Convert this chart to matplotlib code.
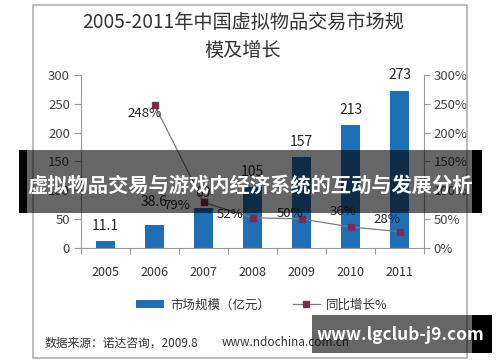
import matplotlib
matplotlib.use("Agg")
import matplotlib.pyplot as plt
from matplotlib.patches import Rectangle
from matplotlib.lines import Line2D
from matplotlib.patches import Patch

plt.rcParams['font.family'] = ['Noto Sans CJK SC', 'DejaVu Sans']

years = ['2005', '2006', '2007', '2008', '2009', '2010', '2011']
market_size = [11.1, 38.6, 69, 105, 157, 213, 273]
growth_years = ['2006', '2007', '2008', '2009', '2010', '2011']
growth_pct = [248, 79, 52, 50, 36, 28]
size_labels = ['11.1', '38.6', '69', '105', '157', '213', '273']
growth_labels = ['248%', '79%', '52%', '50%', '36%', '28%']
left_ticks = [0, 50, 100, 150, 200, 250, 300]
right_ticks = [0, 50, 100, 150, 200, 250, 300]
right_tick_labels = ['0%', '50%', '100%', '150%', '200%', '250%', '300%']

title_lines = ['2005-2011年中国虚拟物品交易市场规', '模及增长']
legend_labels = ['市场规模（亿元）', '同比增长%']
source_text = '数据来源：诺达咨询，2009.8'
source_url = 'www.ndochina.com.cn'
banner_text = '虚拟物品交易与游戏内经济系统的互动与发展分析'
watermark_text = 'www.lgclub-j9.com'

W, H = 500, 362
fig = plt.figure(figsize=(5, 3.62), dpi=100)
fig.patch.set_facecolor('white')

def fx(px):
    return px / W

def fy(py):
    return 1 - py / H

# outer frame
fig.add_artist(Rectangle((fx(33), fy(358)), fx(467) - fx(33), fy(5) - fy(358),
                         transform=fig.transFigure, fill=False, edgecolor='#b0b0b0', lw=1.2))

# title
fig.text(fx(243), fy(22), title_lines[0], ha='center', va='center', fontsize=13.8, color='#333333')
fig.text(fx(243), fy(50), title_lines[1], ha='center', va='center', fontsize=13.8, color='#333333')

ax = fig.add_axes([fx(81), fy(247.7), fx(424) - fx(81), fy(75) - fy(247.7)])
x = list(range(len(years)))
bars = ax.bar(x, market_size, width=0.4, color='#1f6fb6', zorder=2)
ax.set_xlim(-0.5, len(years) - 0.5)
ax.set_ylim(0, 300)
ax.set_yticks(left_ticks)
ax.set_xticks([i + 0.5 for i in range(-1, len(years))], minor=False)
ax.set_xticklabels([])
ax.set_xticks(x, minor=True)
ax.set_xticklabels(years, minor=True)
ax.tick_params(axis='x', which='minor', length=0, pad=13, labelsize=9, labelcolor='#333333')
ax.tick_params(axis='x', which='major', length=4, color='#999999', direction='out')
ax.tick_params(axis='y', length=5, color='#999999', labelsize=9.5, labelcolor='#444444', pad=3)
for s in ['top', 'right']:
    ax.spines[s].set_visible(False)
for s in ['left', 'bottom']:
    ax.spines[s].set_color('#999999')
ax.patch.set_alpha(0)

label_offsets = [11, 17, 11, 11, 11, 11, 11]
for xi, v, lab, off in zip(x, market_size, size_labels, label_offsets):
    ax.annotate(lab, (xi, v), xytext=(0, off), textcoords='offset points',
                ha='center', va='center', fontsize=10, color='#222222')

ax2 = ax.twinx()
gx = [years.index(g) for g in growth_years]
line, = ax2.plot(gx, growth_pct, color='#8a7285', lw=0.9, marker='s', markersize=4.5,
                 markerfacecolor='#7a2e4e', markeredgecolor='#7a2e4e', zorder=3)
ax2.set_ylim(0, 300)
ax2.set_yticks(right_ticks)
ax2.set_yticklabels(right_tick_labels)
ax2.tick_params(axis='y', length=4, color='#999999', labelsize=9.5, labelcolor='#444444', pad=3)
for s in ['top', 'left', 'bottom']:
    ax2.spines[s].set_visible(False)
ax2.spines['right'].set_color('#999999')

g_offsets = [(-7, -6), (-19, -2), (-16, 2), (-8, 4), (-5, 11), (-9, 9)]
for xi, v, lab, (dx, dy) in zip(gx, growth_pct, growth_labels, g_offsets):
    ax2.annotate(lab, (xi, v), xytext=(dx, dy), textcoords='offset points',
                 ha='center', va='center', fontsize=9.5, color='#222222')

# legend
handles = [Patch(facecolor='#1f6fb6', edgecolor='none'),
           Line2D([0], [0], color='#8a7285', lw=0.9, marker='s', markersize=4,
                  markerfacecolor='#7a2e4e', markeredgecolor='#7a2e4e')]
fig.legend(handles, legend_labels, loc='center', bbox_to_anchor=(fx(262), fy(305)),
           ncol=2, frameon=False, fontsize=9, handlelength=2.2, handleheight=0.6,
           columnspacing=1.8, handletextpad=0.5, labelcolor='#333333')

# source
fig.text(fx(45), fy(343), source_text, ha='left', va='center', fontsize=8.5, color='#333333')
fig.text(fx(222), fy(343), source_url, ha='left', va='center', fontsize=8.5, color='#333333')

# banner overlay
fig.add_artist(Rectangle((fx(19), fy(213)), fx(482) - fx(19), fy(150) - fy(213),
                         transform=fig.transFigure, facecolor='black', alpha=0.6, edgecolor='none', zorder=10))
fig.add_artist(Rectangle((fx(19), fy(213)), fx(27) - fx(19), fy(150) - fy(213),
                         transform=fig.transFigure, facecolor='black', edgecolor='none', zorder=10))
fig.add_artist(Rectangle((fx(472), fy(213)), fx(482) - fx(472), fy(150) - fy(213),
                         transform=fig.transFigure, facecolor='black', edgecolor='none', zorder=10))
fig.text(0.5, fy(185), banner_text, ha='center', va='center', fontsize=14.6,
         fontweight='bold', color='white', zorder=11)

# watermark
fig.add_artist(Rectangle((fx(312), fy(353)), fx(492) - fx(312), fy(315) - fy(353),
                         transform=fig.transFigure, facecolor='black', alpha=0.6, edgecolor='none', zorder=10))
fig.add_artist(Rectangle((fx(472), fy(353)), fx(492) - fx(472), fy(315) - fy(353),
                         transform=fig.transFigure, facecolor='black', edgecolor='none', zorder=10))
fig.text(fx(400), fy(335), watermark_text, ha='center', va='center', fontsize=12.5,
         fontweight='bold', color='white', zorder=11)

fig.savefig('out.png', dpi=100)
